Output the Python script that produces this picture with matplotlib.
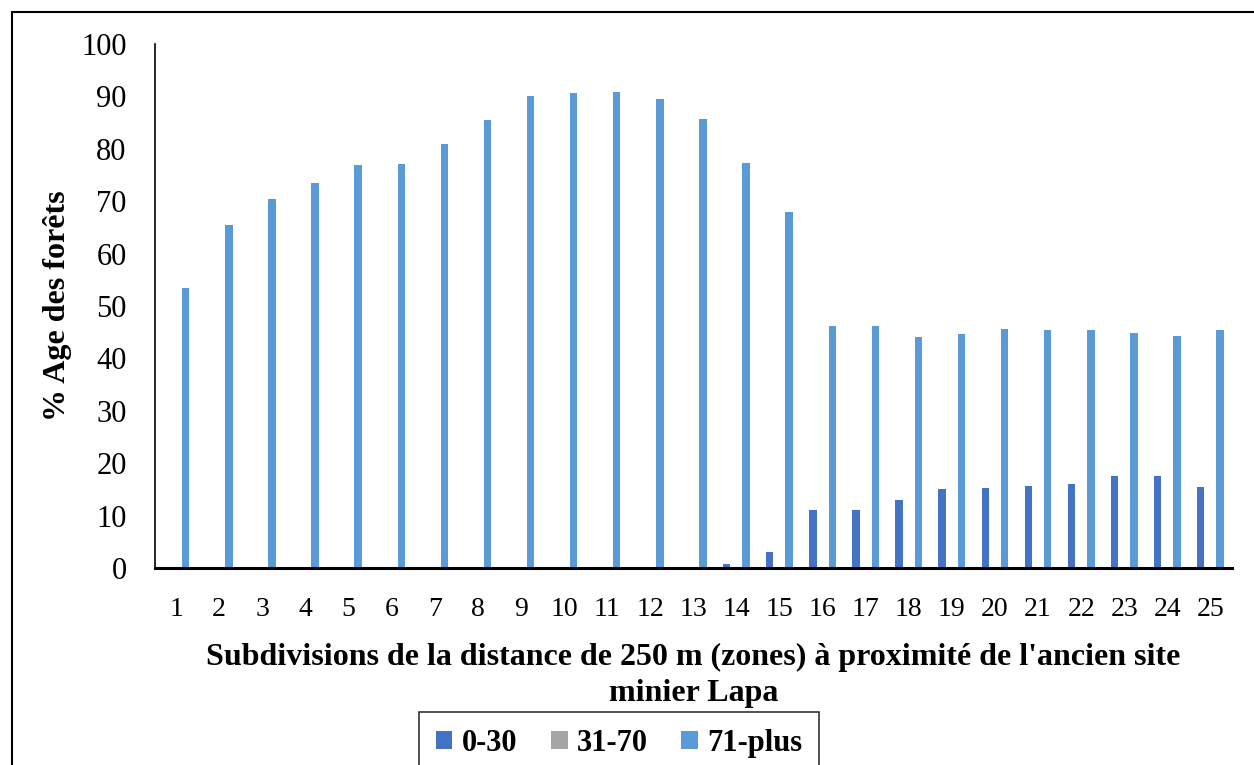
import numpy as np
import matplotlib
matplotlib.use("Agg")
import matplotlib.pyplot as plt
from matplotlib.patches import Rectangle

# donnees
zones = [str(i) for i in range(1, 26)]
age_0_30 = [0, 0, 0, 0, 0, 0, 0, 0, 0, 0, 0, 0, 0, 0.8, 3.1,
            11.1, 11.1, 13.0, 15.1, 15.3, 15.7, 16.1, 17.6, 17.6, 15.5]
age_31_70 = [0] * 25
age_71_plus = [53.5, 65.4, 70.4, 73.4, 76.9, 77.1, 80.9, 85.5, 90.1, 90.6,
               90.8, 89.5, 85.7, 77.2, 67.9, 46.1, 46.1, 44.0, 44.6, 45.7,
               45.5, 45.5, 44.9, 44.2, 45.5]
series_names = ["0-30", "31-70", "71-plus"]
colors = ["#4472C4", "#A5A5A5", "#5B9BD5"]

plt.rcParams['font.family'] = ['Liberation Serif', 'DejaVu Serif']

W, H = 1254, 765
fig = plt.figure(figsize=(W / 100, H / 100), dpi=100)
ax = fig.add_axes([154.5 / W, 1 - 568 / H, (1232 - 154.5) / W, (568 - 44) / H])

x = np.arange(len(zones))
w = 0.17
off = 0.225
for k, vals in enumerate([age_0_30, age_31_70, age_71_plus]):
    ax.bar(x + (k - 1) * off, vals, width=w, color=colors[k],
           label=series_names[k], linewidth=0)

ax.set_xlim(-0.5, len(zones) - 0.5)
ax.set_ylim(0, 100)
ax.set_yticks(range(0, 101, 10))
ax.set_xticks(x)
ax.set_xticklabels(zones)
ax.tick_params(axis='both', length=0, colors='black')
ax.tick_params(axis='x', pad=21, labelsize=20)
ax.tick_params(axis='y', pad=20, labelsize=22)

for s in ['top', 'right']:
    ax.spines[s].set_visible(False)
ax.spines['left'].set_linewidth(1.2)
ax.spines['bottom'].set_linewidth(2.2)

ax.set_ylabel("% Age des forêts", fontsize=23, fontweight='bold', labelpad=7)
ax.set_xlabel("Subdivisions de la distance de 250 m (zones) à proximité de l'ancien site\nminier Lapa",
              fontsize=23, fontweight='bold', labelpad=15, linespacing=1.3)

leg = fig.legend(loc='upper center', bbox_to_anchor=(619 / W, 1 - 712 / H),
                 ncol=3, prop={'weight': 'bold', 'size': 22},
                 frameon=True, fancybox=False, edgecolor='black',
                 handlelength=0.55, handleheight=0.55, handletextpad=0.3,
                 columnspacing=1.1, borderpad=0.55, borderaxespad=0)
leg.get_frame().set_linewidth(1.2)

# cadre de la zone du graphique
fig.patches.append(Rectangle((12 / W, -0.1), 1.2, 1 - 12 / H + 0.1,
                             transform=fig.transFigure, fill=False,
                             edgecolor='black', linewidth=1.5))

fig.savefig("out.png", dpi=100)
